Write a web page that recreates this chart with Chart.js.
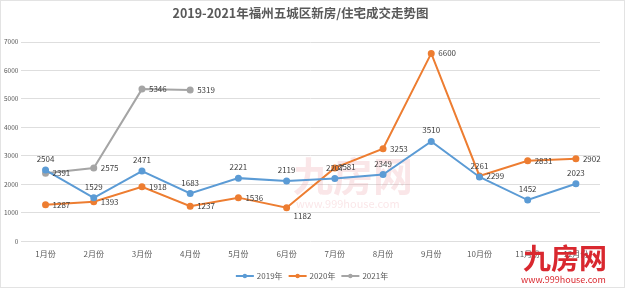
<!DOCTYPE html>
<html>
<head>
<meta charset="utf-8">
<script src="https://cdn.jsdelivr.net/npm/chart.js@4.4.0/dist/chart.umd.min.js"></script>
<style>
  html, body { margin: 0; padding: 0; background: #fff; }
  #wrap { width: 625px; height: 288px; position: relative; box-sizing: border-box; border: 1px solid #e3e3e3; }
</style>
</head>
<body>
<div id="wrap"><canvas id="trendChart" width="623" height="286"></canvas></div>
<script>
// month labels along the x axis
var months = ["1月份","2月份","3月份","4月份","5月份","6月份","7月份","8月份","9月份","10月份","11月份","12月份"];
// deals per month
var deals2019 = [2504,1529,2471,1683,2221,2119,2207,2349,3510,2261,1452,2023];
var deals2020 = [1287,1393,1918,1237,1536,1182,2581,3253,6600,2299,2831,2902];
var deals2021 = [2391,2575,5346,5319];
var yTicks = [0,1000,2000,3000,4000,5000,6000,7000];

var fontFam = '"Noto Sans CJK SC", "Noto Sans", sans-serif';

// value labels: 2019 sits above the point, the others to the right
var valueLabels = {
  id: 'valueLabels',
  afterDatasetsDraw: function(chart) {
    var ctx = chart.ctx;
    ctx.save();
    ctx.font = '8px ' + fontFam;
    ctx.fillStyle = '#404040';
    chart.data.datasets.forEach(function(ds, di) {
      var meta = chart.getDatasetMeta(di);
      meta.data.forEach(function(pt, i) {
        var v = ds.data[i];
        if (v == undefined) return;
        if (di == 0) {
          ctx.textAlign = 'center';
          ctx.textBaseline = 'bottom';
          ctx.fillText(v, pt.x, pt.y - 7);
        } else {
          ctx.textAlign = 'left';
          ctx.textBaseline = 'middle';
          var dy = 0;
          if (di == 1 && i == 5) dy = 8;
          if (di == 1 && i == 6) { ctx.textAlign = 'center'; ctx.fillText(v, pt.x + 12, pt.y - 1); return; }
          ctx.fillText(v, pt.x + 7, pt.y + dy);
        }
      });
    });
    ctx.restore();
  }
};

// legend drawn like the office one: short line with a dot, centred under the plot
var lineLegend = {
  id: 'lineLegend',
  afterDraw: function(chart) {
    var ctx = chart.ctx;
    ctx.save();
    ctx.font = '8px ' + fontFam;
    ctx.textBaseline = 'middle';
    ctx.textAlign = 'left';
    var seg = 18, gap = 3, spacing = 6;
    var total = 0;
    chart.data.datasets.forEach(function(ds) { total += seg + gap + ctx.measureText(ds.label).width + spacing; });
    total -= spacing;
    var x = 311 - total / 2, y = 275;
    chart.data.datasets.forEach(function(ds) {
      ctx.strokeStyle = ds.borderColor;
      ctx.lineWidth = 2;
      ctx.beginPath(); ctx.moveTo(x, y); ctx.lineTo(x + seg, y); ctx.stroke();
      ctx.fillStyle = ds.borderColor;
      ctx.beginPath(); ctx.arc(x + seg / 2, y, 2.2, 0, Math.PI * 2); ctx.fill();
      ctx.fillStyle = '#595959';
      ctx.fillText(ds.label, x + seg + gap, y);
      x += seg + gap + ctx.measureText(ds.label).width + spacing;
    });
    ctx.restore();
  }
};

// faint site watermark behind the lines + logo bottom right
var watermark = {
  id: 'watermark',
  beforeDatasetsDraw: function(chart) {
    var ctx = chart.ctx;
    ctx.save();
    ctx.fillStyle = 'rgba(232,140,150,0.22)';
    ctx.font = 'bold 40px ' + fontFam;
    ctx.textAlign = 'left';
    ctx.textBaseline = 'alphabetic';
    ctx.fillText('九房网', 292, 190);
    ctx.font = '11px ' + fontFam;
    ctx.fillText('www.999house.com', 295, 207);
    ctx.restore();
  },
  afterDraw: function(chart) {
    var ctx = chart.ctx;
    ctx.save();
    ctx.fillStyle = '#d9282f';
    ctx.font = 'bold 28px ' + fontFam;
    ctx.textAlign = 'left';
    ctx.textBaseline = 'alphabetic';
    ctx.fillText('九房网', 522, 268);
    ctx.font = '9px ' + fontFam;
    ctx.fillText('www.999house.com', 520, 282);
    ctx.restore();
  }
};

var ctx = document.getElementById('trendChart');
var theChart = new Chart(ctx, {
  type: 'line',
  data: {
    labels: months,
    datasets: [
      { label: '2019年', data: deals2019, borderColor: '#5B9BD5', backgroundColor: '#5B9BD5', borderWidth: 2, pointRadius: 2.5, tension: 0 },
      { label: '2020年', data: deals2020, borderColor: '#ED7D31', backgroundColor: '#ED7D31', borderWidth: 2, pointRadius: 2.5, tension: 0 },
      { label: '2021年', data: deals2021, borderColor: '#A5A5A5', backgroundColor: '#A5A5A5', borderWidth: 2, pointRadius: 2.5, tension: 0 }
    ]
  },
  options: {
    responsive: false,
    animation: false,
    layout: { padding: { left: 0, right: 24, top: 0, bottom: 28 } },
    plugins: {
      title: {
        display: true,
        text: '2019-2021年福州五城区新房/住宅成交走势图',
        color: '#595959',
        font: { size: 12.5, weight: 'bold', family: fontFam },
        padding: { top: 5, bottom: 21 }
      },
      legend: { display: false },
      tooltip: { enabled: false }
    },
    scales: {
      x: {
        offset: true,
        grid: { display: false },
        border: { display: false },
        ticks: { color: '#595959', font: { size: 8, family: fontFam }, maxRotation: 0, autoSkip: false, padding: 0 }
      },
      y: {
        min: 0,
        max: 7000,
        afterBuildTicks: function(axis) { axis.ticks = yTicks.map(function(v) { return { value: v }; }); },
        grid: { color: '#dedede', drawTicks: false },
        border: { display: false },
        ticks: { color: '#595959', font: { size: 6.5, family: fontFam }, padding: 3, callback: function(v) { return String(v); } }
      }
    }
  },
  plugins: [watermark, valueLabels, lineLegend]
});
</script>
</body>
</html>
